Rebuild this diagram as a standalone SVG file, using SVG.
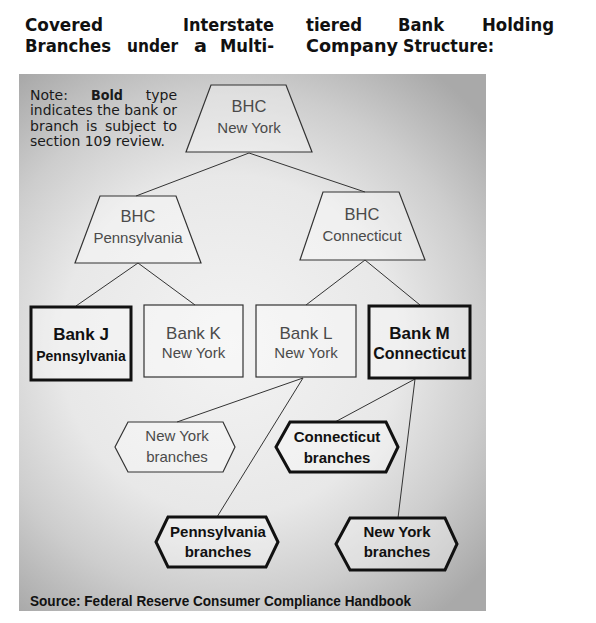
<svg xmlns="http://www.w3.org/2000/svg" width="596" height="623" viewBox="0 0 596 623">
<defs>
<radialGradient id="bg" gradientUnits="userSpaceOnUse" cx="230" cy="345" r="340">
<stop offset="0" stop-color="#f3f3f3"/>
<stop offset="0.5" stop-color="#e8e8e8"/>
<stop offset="0.75" stop-color="#cdcdcd"/>
<stop offset="1" stop-color="#a9a9a9"/>
</radialGradient>
</defs>
<style>
.title{font-family:"DejaVu Sans",sans-serif;font-weight:bold;font-size:18px;fill:#111}
.note{font-family:"DejaVu Sans",sans-serif;font-size:14px;fill:#1a1a1a}
.thin{fill:#ffffff;fill-opacity:0.35;stroke:#333;stroke-width:1.2}
.bold{fill:#ffffff;fill-opacity:0.35;stroke:#111;stroke-width:3;stroke-linejoin:miter}
.lt{font-family:"Liberation Sans",Arial,sans-serif;fill:#4a4a4a;text-anchor:middle}
.bt{font-family:"Liberation Sans",Arial,sans-serif;font-weight:bold;fill:#111;text-anchor:middle}
.conn line{stroke:#333;stroke-width:1}
.src{font-family:"Liberation Sans",Arial,sans-serif;font-weight:bold;font-size:14px;fill:#111}
</style>
<rect x="0" y="0" width="596" height="623" fill="#ffffff"/>
<g id="title">
<text class="title" x="25" y="31" textLength="78" lengthAdjust="spacingAndGlyphs">Covered</text>
<text class="title" x="183" y="31" textLength="91" lengthAdjust="spacingAndGlyphs">Interstate</text>
<text class="title" x="306" y="31" textLength="56" lengthAdjust="spacingAndGlyphs">tiered</text>
<text class="title" x="398" y="31" textLength="46" lengthAdjust="spacingAndGlyphs">Bank</text>
<text class="title" x="482" y="31" textLength="72" lengthAdjust="spacingAndGlyphs">Holding</text>
<text class="title" x="25" y="52" textLength="86" lengthAdjust="spacingAndGlyphs">Branches</text>
<text class="title" x="127" y="52" textLength="51" lengthAdjust="spacingAndGlyphs">under</text>
<text class="title" x="194" y="52" textLength="13" lengthAdjust="spacingAndGlyphs">a</text>
<text class="title" x="220" y="52" textLength="54" lengthAdjust="spacingAndGlyphs">Multi-</text>
<text class="title" x="306" y="52" textLength="92" lengthAdjust="spacingAndGlyphs">Company</text>
<text class="title" x="403" y="52" textLength="91" lengthAdjust="spacingAndGlyphs">Structure:</text>
</g>
<rect id="panel" x="19" y="74" width="467" height="537" fill="url(#bg)"/>
<g id="note">
<text class="note" x="30" y="99.5">Note:</text>
<text class="note" x="91" y="99.5" font-weight="bold" textLength="32" lengthAdjust="spacingAndGlyphs">Bold</text>
<text class="note" x="177" y="99.5" text-anchor="end">type</text>
<text class="note" x="30" y="115" textLength="147" lengthAdjust="spacingAndGlyphs">indicates the bank or</text>
<text class="note" x="30" y="130.5">branch</text>
<text class="note" x="86" y="130.5">is</text>
<text class="note" x="105" y="130.5">subject</text>
<text class="note" x="177" y="130.5" text-anchor="end">to</text>
<text class="note" x="30" y="146" textLength="135" lengthAdjust="spacingAndGlyphs">section 109 review.</text>
</g>
<g id="connectors" class="conn">
<line x1="249" y1="153" x2="136" y2="196"/>
<line x1="249" y1="153" x2="365" y2="192"/>
<line x1="138" y1="263" x2="76" y2="306"/>
<line x1="138" y1="263" x2="195" y2="305"/>
<line x1="365" y1="260" x2="306" y2="305"/>
<line x1="365" y1="260" x2="420" y2="305"/>
<line x1="303" y1="378" x2="177" y2="422"/>
<line x1="303" y1="378" x2="217" y2="517"/>
<line x1="415" y1="379" x2="335" y2="422"/>
<line x1="415" y1="379" x2="398" y2="518"/>
</g>
<g id="bhc-ny">
<polygon class="thin" points="211,85 286,85 312,152 186,152"/>
<text class="lt" x="249" y="112" font-size="16.5">BHC</text>
<text class="lt" x="249" y="133" font-size="15">New York</text>
</g>
<g id="bhc-pa">
<polygon class="thin" points="100,196 176,196 201,263 75,263"/>
<text class="lt" x="138" y="222" font-size="16.5">BHC</text>
<text class="lt" x="138" y="243" font-size="15">Pennsylvania</text>
</g>
<g id="bhc-ct">
<polygon class="thin" points="323,192 399,192 425,260 300,260"/>
<text class="lt" x="362" y="220" font-size="16.5">BHC</text>
<text class="lt" x="362" y="241" font-size="15">Connecticut</text>
</g>
<g id="bank-j">
<rect class="bold" x="31" y="307" width="100" height="73"/>
<text class="bt" x="81" y="340" font-size="17">Bank J</text>
<text class="bt" x="81" y="361" font-size="14">Pennsylvania</text>
</g>
<g id="bank-k">
<rect class="thin" x="144" y="305" width="99" height="72"/>
<text class="lt" x="193.5" y="339" font-size="17">Bank K</text>
<text class="lt" x="193.5" y="358" font-size="15">New York</text>
</g>
<g id="bank-l">
<rect class="thin" x="256" y="305" width="100" height="72"/>
<text class="lt" x="306" y="339" font-size="17">Bank L</text>
<text class="lt" x="306" y="358" font-size="15">New York</text>
</g>
<g id="bank-m">
<rect class="bold" x="369" y="306" width="101" height="72"/>
<text class="bt" x="419.5" y="339" font-size="17">Bank M</text>
<text class="bt" x="419.5" y="359" font-size="16">Connecticut</text>
</g>
<g id="ny-branches-l">
<polygon class="thin" points="115,447 128,422 223,422 235,447 223,472 128,472"/>
<text class="lt" x="177" y="441" font-size="15">New York</text>
<text class="lt" x="177" y="462" font-size="15">branches</text>
</g>
<g id="ct-branches">
<polygon class="bold" points="276,447 290,422 386,422 398,447 386,472 290,472"/>
<text class="bt" x="337" y="442" font-size="15">Connecticut</text>
<text class="bt" x="337" y="463" font-size="15">branches</text>
</g>
<g id="pa-branches">
<polygon class="bold" points="156,542 168,517 266,517 278,542 266,567 168,567"/>
<text class="bt" x="218" y="537" font-size="15">Pennsylvania</text>
<text class="bt" x="218" y="557" font-size="15">branches</text>
</g>
<g id="ny-branches-m">
<polygon class="bold" points="336,544 350,518 445,518 457,544 445,570 350,570"/>
<text class="bt" x="397" y="537" font-size="15">New York</text>
<text class="bt" x="397" y="557" font-size="15">branches</text>
</g>
<text class="src" x="30" y="606" textLength="381" lengthAdjust="spacingAndGlyphs">Source: Federal Reserve Consumer Compliance Handbook</text>
</svg>
